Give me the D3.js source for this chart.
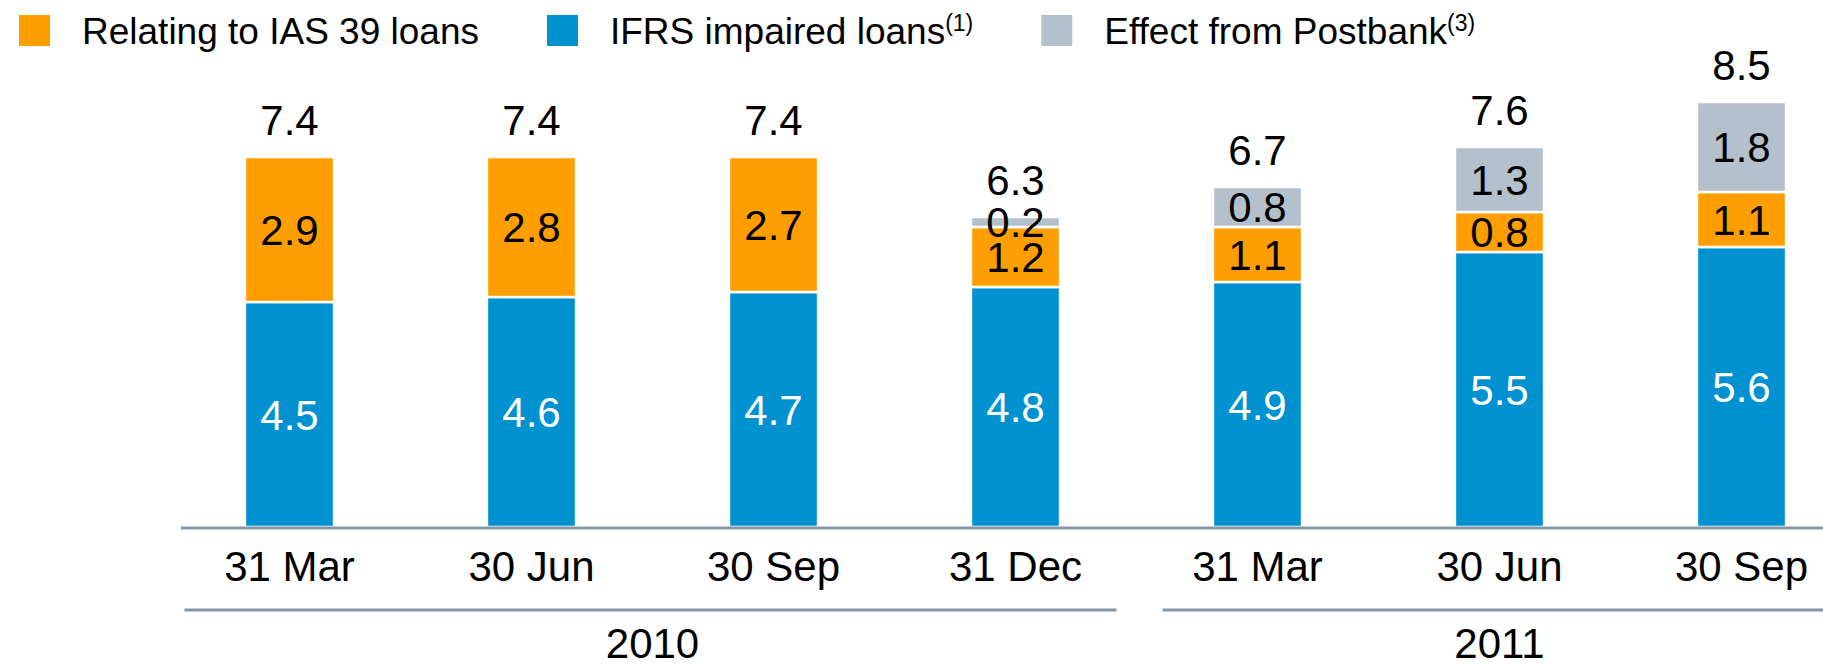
<!DOCTYPE html>
<html>
<head>
<meta charset="utf-8">
<script src="https://cdn.jsdelivr.net/npm/d3@7"></script>
<style>
    body { margin: 0; background: #fff; }
    text { font-family: "Liberation Sans", Arial, sans-serif; }
</style>
</head>
<body>
<div id="impairedLoans"></div>
<script>
// data (EUR bn)
var categories = ["31 Mar", "30 Jun", "30 Sep", "31 Dec", "31 Mar", "30 Jun", "30 Sep"];
var years = ["2010", "2010", "2010", "2010", "2011", "2011", "2011"];
var ifrsImpaired = [4.5, 4.6, 4.7, 4.8, 4.9, 5.5, 5.6];
var ias39 = [2.9, 2.8, 2.7, 1.2, 1.1, 0.8, 1.1];
var postbank = [0, 0, 0, 0.2, 0.8, 1.3, 1.8];
var totals = [7.4, 7.4, 7.4, 6.3, 6.7, 7.6, 8.5];

var seriesNames = ["IFRS impaired loans", "Relating to IAS 39 loans", "Effect from Postbank"];
var legendItems = [
    { key: "Relating to IAS 39 loans", text: "Relating to IAS 39 loans", sup: "" },
    { key: "IFRS impaired loans", text: "IFRS impaired loans", sup: "(1)" },
    { key: "Effect from Postbank", text: "Effect from Postbank", sup: "(3)" }
];

var width = 1823
var height = 664

var svg = d3.select("#impairedLoans")
    .append("svg")
    .attr("width", width)
    .attr("height", height)

var color = d3.scaleOrdinal()
    .domain(seriesNames)
    .range(["#0091d0", "#ff9e00", "#b4c0cc"]);

var labelColor = d3.scaleOrdinal()
    .domain(seriesNames)
    .range(["#ffffff", "#000000", "#000000"]);

// build rows for the stack, one per bar
var rows = categories.map(function(c, i) {
    return {
        id: years[i] + " " + c,
        cat: c,
        year: years[i],
        total: totals[i],
        "IFRS impaired loans": ifrsImpaired[i],
        "Relating to IAS 39 loans": ias39[i],
        "Effect from Postbank": postbank[i]
    };
});

var stacked = d3.stack().keys(seriesNames)(rows);

var x = d3.scaleBand()
    .domain(rows.map(function(d) { return d.id; }))
    .range([168.5, 168.5 + 242 * rows.length])
    .paddingInner(0.64)
    .paddingOuter(0.32);

var y = d3.scaleLinear()
    .domain([0, 8.5])
    .range([527, 102]);

var fmt = d3.format(".1f");

// bar segments
var layers = svg.append("g")
    .selectAll("g")
    .data(stacked)
    .join("g")
    .attr("fill", function(d) { return color(d.key); })

layers.selectAll("rect")
    .data(function(d) { return d; })
    .join("rect")
    .filter(function(d) { return d[1] - d[0] > 0; })
    .attr("x", function(d) { return x(d.data.id) - 1; })
    .attr("width", x.bandwidth() + 2)
    .attr("y", function(d) { return y(d[1]); })
    .attr("height", function(d) { return y(d[0]) - y(d[1]); })
    .attr("stroke", "#ffffff")
    .attr("stroke-width", 2.5)

// value labels inside segments
layers.each(function(layer) {
    d3.select(this).selectAll("text")
        .data(layer.filter(function(d) { return d[1] - d[0] > 0; }))
        .join("text")
        .attr("x", function(d) { return x(d.data.id) + x.bandwidth() / 2; })
        .attr("y", function(d) { return (y(d[0]) + y(d[1])) / 2; })
        .attr("dy", "0.36em")
        .attr("text-anchor", "middle")
        .style("font-size", "42px")
        .style("fill", labelColor(layer.key))
        .text(function(d) { return fmt(d[1] - d[0]); })
});

// totals on top
var tops = stacked[stacked.length - 1];
svg.append("g")
    .selectAll("text")
    .data(tops)
    .join("text")
    .attr("x", function(d) { return x(d.data.id) + x.bandwidth() / 2; })
    .attr("y", function(d) { return y(d[1]) - 22; })
    .attr("text-anchor", "middle")
    .style("font-size", "42px")
    .style("fill", "#000")
    .text(function(d) { return fmt(d.data.total); })

// base line
svg.append("line")
    .attr("x1", 181)
    .attr("x2", width)
    .attr("y1", 528)
    .attr("y2", 528)
    .attr("stroke", "#8497a8")
    .attr("stroke-width", 3)

// category labels
svg.append("g")
    .selectAll("text")
    .data(rows)
    .join("text")
    .attr("x", function(d) { return x(d.id) + x.bandwidth() / 2; })
    .attr("y", 581)
    .attr("text-anchor", "middle")
    .style("font-size", "42px")
    .text(function(d) { return d.cat; })

// year groups: a line under each group and the year below it
var yearKeys = Array.from(new Set(years));
var groups = yearKeys.map(function(yr) {
    var ids = rows.filter(function(d) { return d.year == yr; }).map(function(d) { return d.id; });
    var first = x(ids[0]) - x.step() * x.paddingInner() / 2;
    var last = x(ids[ids.length - 1]) + x.bandwidth() + x.step() * x.paddingInner() / 2;
    var mid = (x(ids[0]) + x(ids[ids.length - 1]) + x.bandwidth()) / 2;
    return { year: yr, x1: first + 16, x2: Math.min(last - 20, width), mid: mid };
});

svg.append("g")
    .selectAll("line")
    .data(groups)
    .join("line")
    .attr("x1", function(d, i) { return i == 0 ? d.x1 : d.x1 + 10; })
    .attr("x2", function(d) { return d.x2; })
    .attr("y1", 610)
    .attr("y2", 610)
    .attr("stroke", "#8497a8")
    .attr("stroke-width", 3)

svg.append("g")
    .selectAll("text")
    .data(groups)
    .join("text")
    .attr("x", function(d) { return d.mid; })
    .attr("y", 658)
    .attr("text-anchor", "middle")
    .style("font-size", "42px")
    .text(function(d) { return d.year; })

// legend at the top
var legend = svg.append("g")
var lx = 19
legendItems.forEach(function(item) {
    legend.append("rect")
        .attr("x", lx)
        .attr("y", 15)
        .attr("width", 31)
        .attr("height", 31)
        .attr("fill", color(item.key))
    var t = legend.append("text")
        .attr("x", lx + 63)
        .attr("y", 44)
        .style("font-size", "37px")
        .text(item.text)
    if (item.sup) {
        t.append("tspan")
            .attr("dy", -13)
            .style("font-size", "23px")
            .text(item.sup)
    }
    lx = lx + 63 + t.node().getComputedTextLength() + 68;
});
</script>
</body>
</html>
